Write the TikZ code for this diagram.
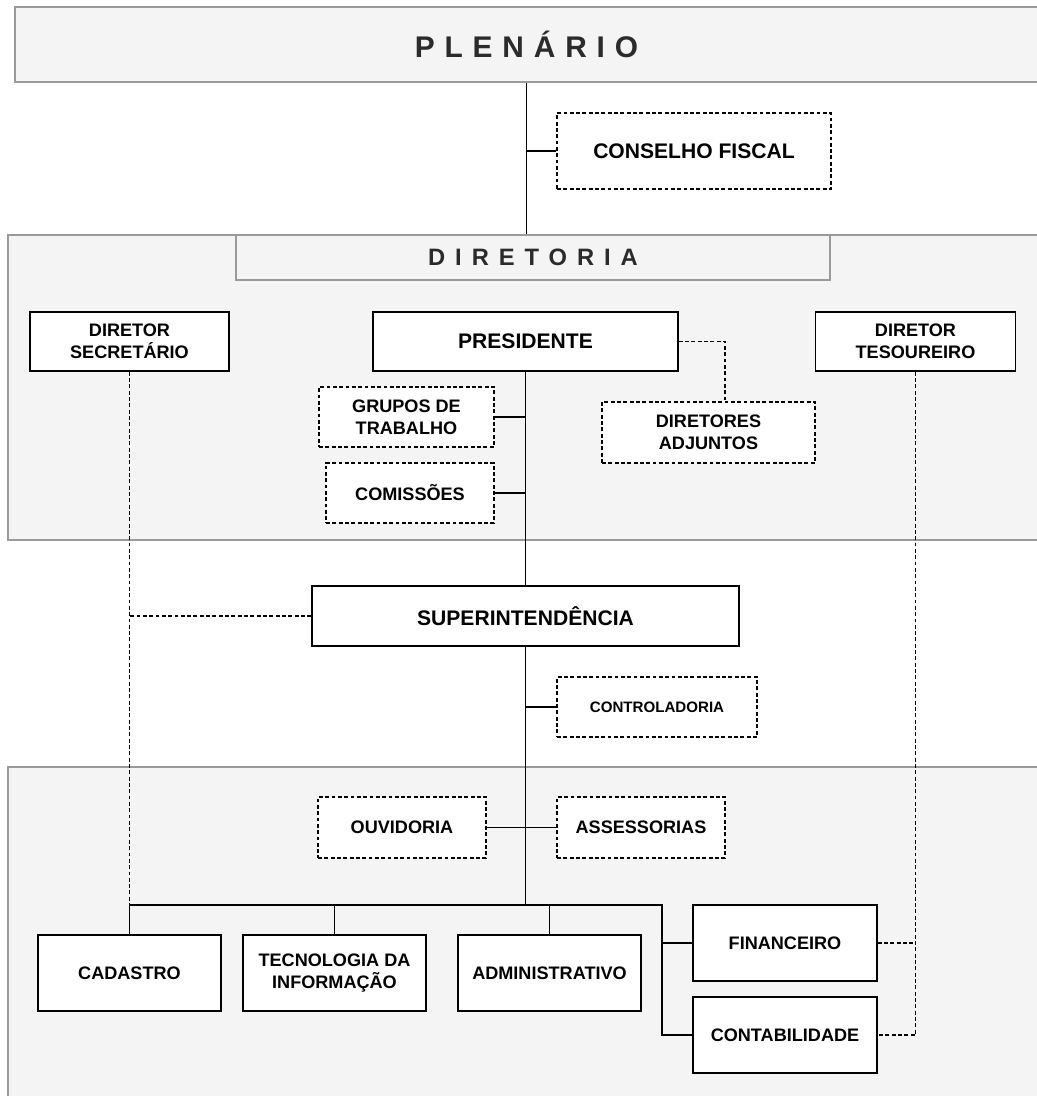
\documentclass[tikz,border=0pt]{standalone}
\usepackage{fontspec}
\setmainfont{Liberation Sans}
\usepackage{tikz}
\usetikzlibrary{calc,positioning}

\definecolor{paneGray}{HTML}{F4F4F4}
\definecolor{edgeGray}{HTML}{9A9A9A}
\definecolor{titleGray}{HTML}{2B2B2B}

\tikzset{
  unitbox/.style={draw=black, line width=0.95pt, fill=white, align=center, inner sep=2pt,
    font=\bfseries\fontsize{10.3}{12.4}\selectfont},
  auxbox/.style={unitbox, line width=0.7pt, dash pattern=on 2.2pt off 1.4pt},
  bigtext/.style={font=\bfseries\fontsize{12}{14}\selectfont},
  pane/.style={fill=paneGray, draw=edgeGray, line width=0.9pt},
  link/.style={line width=0.85pt},
  dlink/.style={line width=0.7pt, dash pattern=on 2.2pt off 1.4pt},
}

\begin{document}
\begin{tikzpicture}[x=0.02cm, y=-0.02cm]
    \useasboundingbox (0,0) rectangle (1037,1096);

    % shaded areas
    \draw[pane] (8,235) rectangle (1045,540);
    \draw[pane] (8,767) rectangle (1045,1105);

    \node[pane, minimum width=20.46cm, minimum height=1.5cm, text=titleGray,
      font=\bfseries\fontsize{17}{20}\selectfont\addfontfeature{LetterSpace=33}] (plenario) at (526.5,44.5) {PLENÁRIO};
    \node[pane, minimum width=11.88cm, minimum height=0.9cm, text=titleGray,
      font=\bfseries\fontsize{13.5}{16}\selectfont\addfontfeature{LetterSpace=42}] (diretoria) at (533,257.5) {DIRETORIA};

    \node[auxbox, bigtext, minimum width=5.48cm, minimum height=1.52cm] (conselho) at (694,151) {CONSELHO FISCAL};

    \node[unitbox, minimum width=3.98cm, minimum height=1.18cm] (secretario) at (129.5,341.5) {DIRETOR\\SECRETÁRIO};
    \node[unitbox, bigtext, minimum width=6.1cm, minimum height=1.18cm] (presidente) at (525.5,341.5) {PRESIDENTE};
    \node[unitbox, minimum width=4.0cm, minimum height=1.18cm] (tesoureiro) at (915.5,341.5) {DIRETOR\\TESOUREIRO};

    \node[auxbox, minimum width=3.5cm, minimum height=1.2cm] (grupos) at (406.5,417) {GRUPOS DE\\TRABALHO};
    \node[auxbox, minimum width=3.36cm, minimum height=1.2cm] (comissoes) at (410,493) {COMISSÕES};
    \node[auxbox, minimum width=4.26cm, minimum height=1.22cm] (adjuntos) at (708.5,432.5) {DIRETORES\\ADJUNTOS};

    \node[unitbox, bigtext, minimum width=8.54cm, minimum height=1.2cm] (superint) at (525.5,616) {SUPERINTENDÊNCIA};
    \node[auxbox, minimum width=4.0cm, minimum height=1.2cm,
      font=\bfseries\fontsize{8.6}{10}\selectfont] (controladoria) at (657,707) {CONTROLADORIA};

    \node[auxbox, minimum width=3.36cm, minimum height=1.22cm] (ouvidoria) at (402,827.5) {OUVIDORIA};
    \node[auxbox, minimum width=3.36cm, minimum height=1.22cm] (assessorias) at (641,827.5) {ASSESSORIAS};

    \node[unitbox, minimum width=3.66cm, minimum height=1.52cm] (cadastro) at (129.5,973) {CADASTRO};
    \node[unitbox, minimum width=3.66cm, minimum height=1.52cm] (tecnologia) at (334.5,973) {TECNOLOGIA DA\\INFORMAÇÃO};
    \node[unitbox, minimum width=3.66cm, minimum height=1.52cm] (administrativo) at (549.5,973) {ADMINISTRATIVO};
    \node[unitbox, minimum width=3.68cm, minimum height=1.52cm] (financeiro) at (785,943) {FINANCEIRO};
    \node[unitbox, minimum width=3.68cm, minimum height=1.52cm] (contabilidade) at (785,1035) {CONTABILIDADE};

    \coordinate (split) at (662,905);

    % solid lines
    \draw[link] (plenario.south) -- (plenario.south |- diretoria.north);
    \draw[link] (conselho.west) -- (conselho.west -| plenario.south);
    \draw[link] (presidente.south) -- (superint.north);
    \draw[link] (grupos.east) -- (grupos.east -| presidente.south);
    \draw[link] (comissoes.east) -- (comissoes.east -| presidente.south);
    \draw[link] (superint.south) -- (superint.south |- split);
    \draw[link] (controladoria.west) -- (controladoria.west -| superint.south);
    \draw[link] (ouvidoria.east) -- (assessorias.west);
    \draw[link] (cadastro.north) -- (cadastro.north |- split) -- (split) |- (contabilidade.west);
    \draw[link] (tecnologia.north) -- (tecnologia.north |- split);
    \draw[link] (administrativo.north) -- (administrativo.north |- split);
    \draw[link] (split |- financeiro.west) -- (financeiro.west);

    % dashed lines
    \draw[dlink] (presidente.east) -| ([xshift=0.33cm]adjuntos.north);
    \draw[dlink] (secretario.south) -- (secretario.south |- split);
    \draw[dlink] (superint.west) -- (superint.west -| secretario.south);
    \draw[dlink] (tesoureiro.south) |- (contabilidade.east);
    \draw[dlink] (financeiro.east) -- (financeiro.east -| tesoureiro.south);
\end{tikzpicture}
\end{document}
